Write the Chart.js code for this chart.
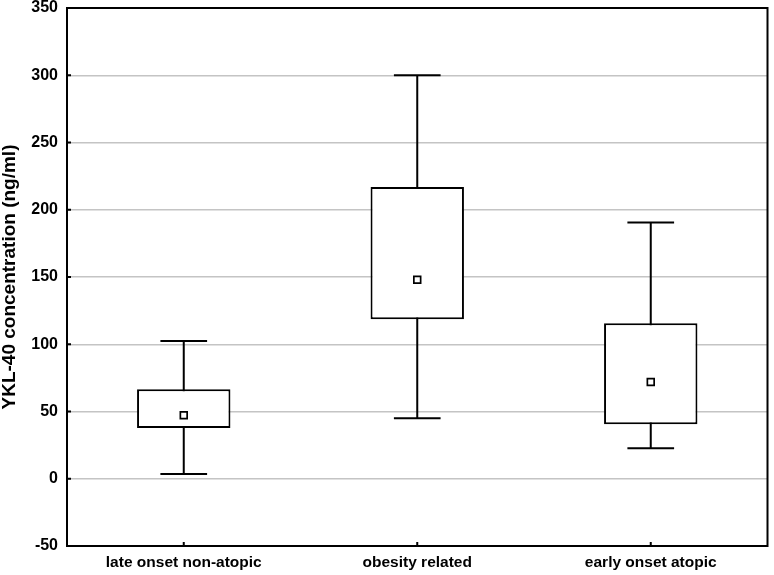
<!DOCTYPE html>
<html>
<head>
<meta charset="utf-8">
<script src="https://cdn.jsdelivr.net/npm/chart.js@4"></script>
<style>
  html, body { margin: 0; padding: 0; background: #fff; }
  #wrap { width: 774px; height: 575px; }
</style>
</head>
<body>
<div id="wrap"><canvas id="c" width="774" height="575"></canvas></div>
<script>
const categories = ["late onset non-atopic", "obesity related", "early onset atopic"];
const whiskerMin = [3.5, 45, 22.6];
const boxQ1 = [37.7, 118.5, 40.5];
const medians = [47.2, 148, 71.9];
const boxQ3 = [66.5, 217, 115.6];
const whiskerMax = [102.4, 300, 190.6];
const yMin = -50, yMax = 350, yStep = 50;

const FONT = "'Liberation Sans', Arial, sans-serif";

const boxPlugin = {
  id: 'boxExtras',
  beforeDatasetsDraw(chart) {
    const ctx = chart.ctx, x = chart.scales.x, y = chart.scales.y;
    const capHalf = x.width / categories.length * 0.1;
    ctx.save();
    ctx.strokeStyle = '#000';
    ctx.lineWidth = 2;
    categories.forEach((c, i) => {
      const px = x.getPixelForValue(i);
      const yTop = y.getPixelForValue(whiskerMax[i]);
      const yBot = y.getPixelForValue(whiskerMin[i]);
      ctx.beginPath();
      ctx.moveTo(px, yTop); ctx.lineTo(px, yBot);
      ctx.moveTo(px - capHalf, yTop); ctx.lineTo(px + capHalf, yTop);
      ctx.moveTo(px - capHalf, yBot); ctx.lineTo(px + capHalf, yBot);
      ctx.stroke();
    });
    ctx.restore();
  },
  afterDraw(chart) {
    const ctx = chart.ctx, a = chart.chartArea, x = chart.scales.x, y = chart.scales.y;
    ctx.save();
    ctx.strokeStyle = '#000';
    ctx.lineWidth = 2;
    ctx.beginPath();
    y.ticks.forEach(t => {
      const py = y.getPixelForValue(t.value);
      ctx.moveTo(a.left, py); ctx.lineTo(a.left + 4, py);
    });
    categories.forEach((c, i) => {
      const px = x.getPixelForValue(i);
      ctx.moveTo(px, a.bottom); ctx.lineTo(px, a.bottom - 4);
    });
    ctx.stroke();
    ctx.strokeRect(a.left, a.top, a.right - a.left, a.bottom - a.top);
    ctx.restore();
  }
};

new Chart(document.getElementById('c'), {
  type: 'bar',
  data: {
    labels: categories,
    datasets: [
      {
        type: 'line',
        label: 'median',
        data: medians,
        showLine: false,
        pointStyle: 'rect',
        pointRadius: 4.8,
        pointBorderWidth: 1.7,
        pointBorderColor: '#000',
        pointBackgroundColor: '#fff',
        order: 0
      },
      {
        label: 'box',
        data: categories.map((c, i) => [boxQ1[i], boxQ3[i]]),
        backgroundColor: '#fff',
        borderColor: '#000',
        borderWidth: 2,
        borderSkipped: false,
        barPercentage: 0.4,
        categoryPercentage: 1,
        order: 1
      }
    ]
  },
  options: {
    responsive: false,
    animation: false,
    devicePixelRatio: 1,
    layout: { padding: { left: 0, right: 1, top: 0, bottom: 0 } },
    plugins: { legend: { display: false }, tooltip: { enabled: false } },
    scales: {
      x: {
        grid: { display: true, drawOnChartArea: false, drawTicks: false },
        border: { display: false },
        ticks: { color: '#000', font: { family: FONT, size: 15.5, weight: 'bold' }, padding: 7, maxRotation: 0 },
        afterFit(s) { s.height = 29; s.paddingLeft = 0; s.paddingRight = 0; }
      },
      y: {
        min: yMin, max: yMax,
        grid: {
          drawTicks: false,
          lineWidth: 1.5,
          color: c => (c.tick && (c.tick.value === yMin || c.tick.value === yMax)) ? 'rgba(0,0,0,0)' : '#c4c4c4'
        },
        border: { display: false },
        ticks: { stepSize: yStep, color: '#000', font: { family: FONT, size: 16, weight: 'bold', lineHeight: 1 }, padding: 9 },
        title: {
          display: true,
          text: 'YKL-40 concentration (ng/ml)',
          color: '#000',
          font: { family: FONT, size: 19, weight: 'bold' },
          padding: { top: -2, bottom: 0 }
        },
        afterFit(s) { s.width = 67; s.paddingTop = 8; s.paddingBottom = 0; }
      }
    }
  },
  plugins: [boxPlugin]
});
</script>
</body>
</html>
